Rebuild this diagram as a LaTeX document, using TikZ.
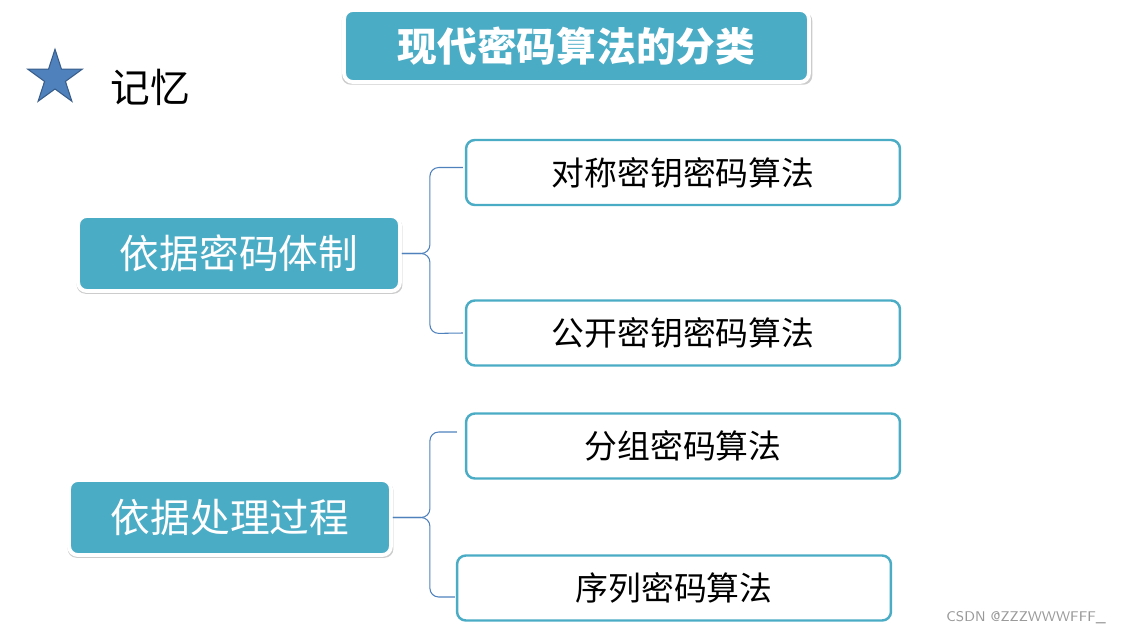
\documentclass[tikz,border=0pt]{standalone}
\usepackage{fontspec}
\newfontfamily\cjk{Noto Sans CJK SC}
\usetikzlibrary{shapes.geometric, shadows, calc}

\definecolor{tealbox}{HTML}{4BACC6}
\definecolor{braceblue}{HTML}{4F81BD}
\definecolor{stardark}{HTML}{385D8A}

\begin{document}
\begin{tikzpicture}[x=0.02cm, y=-0.02cm, font=\cjk,
		head/.style={rounded corners=5pt, fill=tealbox, draw=white, line width=2.2pt,
			text=white, align=center,
			drop shadow={shadow xshift=0.3pt, shadow yshift=-1.3pt, shadow scale=1.012,
				opacity=0.4, fill=gray}},
		leaf/.style={rounded corners=5pt, fill=white, draw=tealbox, line width=1.4pt,
			minimum width=8.68cm, minimum height=1.3cm, font=\cjk\fontsize{18.7}{20}\selectfont},
		brace/.style={braceblue, line width=0.6pt, rounded corners=5pt}]
		
		\useasboundingbox (0,0) rectangle (1126,635);
		
		% --- Title
		\node[head, minimum width=9.3cm, minimum height=1.44cm,
			font=\cjk\bfseries\fontsize{22.6}{24}\selectfont] (title) at (576.5,46) {现代密码算法的分类};
		
		% --- Star and note
		\node[star, star points=5, star point ratio=2.62, minimum size=1.15cm, inner sep=0pt,
			fill=braceblue, draw=stardark, line width=0.6pt] (mark) at (55,78) {};
		\node[font=\cjk\fontsize{22.6}{24}\selectfont] (memo) at (150,87) {记忆};
		
		% --- Left boxes
		\node[head, minimum width=6.44cm, minimum height=1.5cm,
			font=\cjk\fontsize{22.6}{24}\selectfont] (L1) at (239,253.5) {依据密码体制};
		\node[head, minimum width=6.44cm, minimum height=1.5cm,
			font=\cjk\fontsize{22.6}{24}\selectfont] (L2) at (230,517.5) {依据处理过程};
		
		% --- Right boxes
		\node[leaf] (A) at (683,172.5) {对称密钥密码算法};
		\node[leaf] (B) at (683,333) {公开密钥密码算法};
		\node[leaf] (C) at (683,446) {分组密码算法};
		\node[leaf] (D) at (674,588) {序列密码算法};
		
		% --- Braces
		\draw[brace] (L1.east) -| ++(28,-86) -- ($(A.west)+(-2,-5)$);
		\draw[brace] (L1.east) -| ++(28,80) -- ($(B.west)+(-2,0)$);
		\draw[brace] (L2.east) -| ++(37,-85.5) -- ($(C.west)+(-8,-14)$);
		\draw[brace] (L2.east) -| ++(37,79.5) -- ($(D.west)+(-1,9)$);
		
		% --- Watermark
		\node[anchor=east, text=gray!80, font=\sffamily\fontsize{8}{9}\selectfont] (wm) at (1112,618) {CSDN @ZZZWWWFFF\_};
		
	\end{tikzpicture}
\end{document}
